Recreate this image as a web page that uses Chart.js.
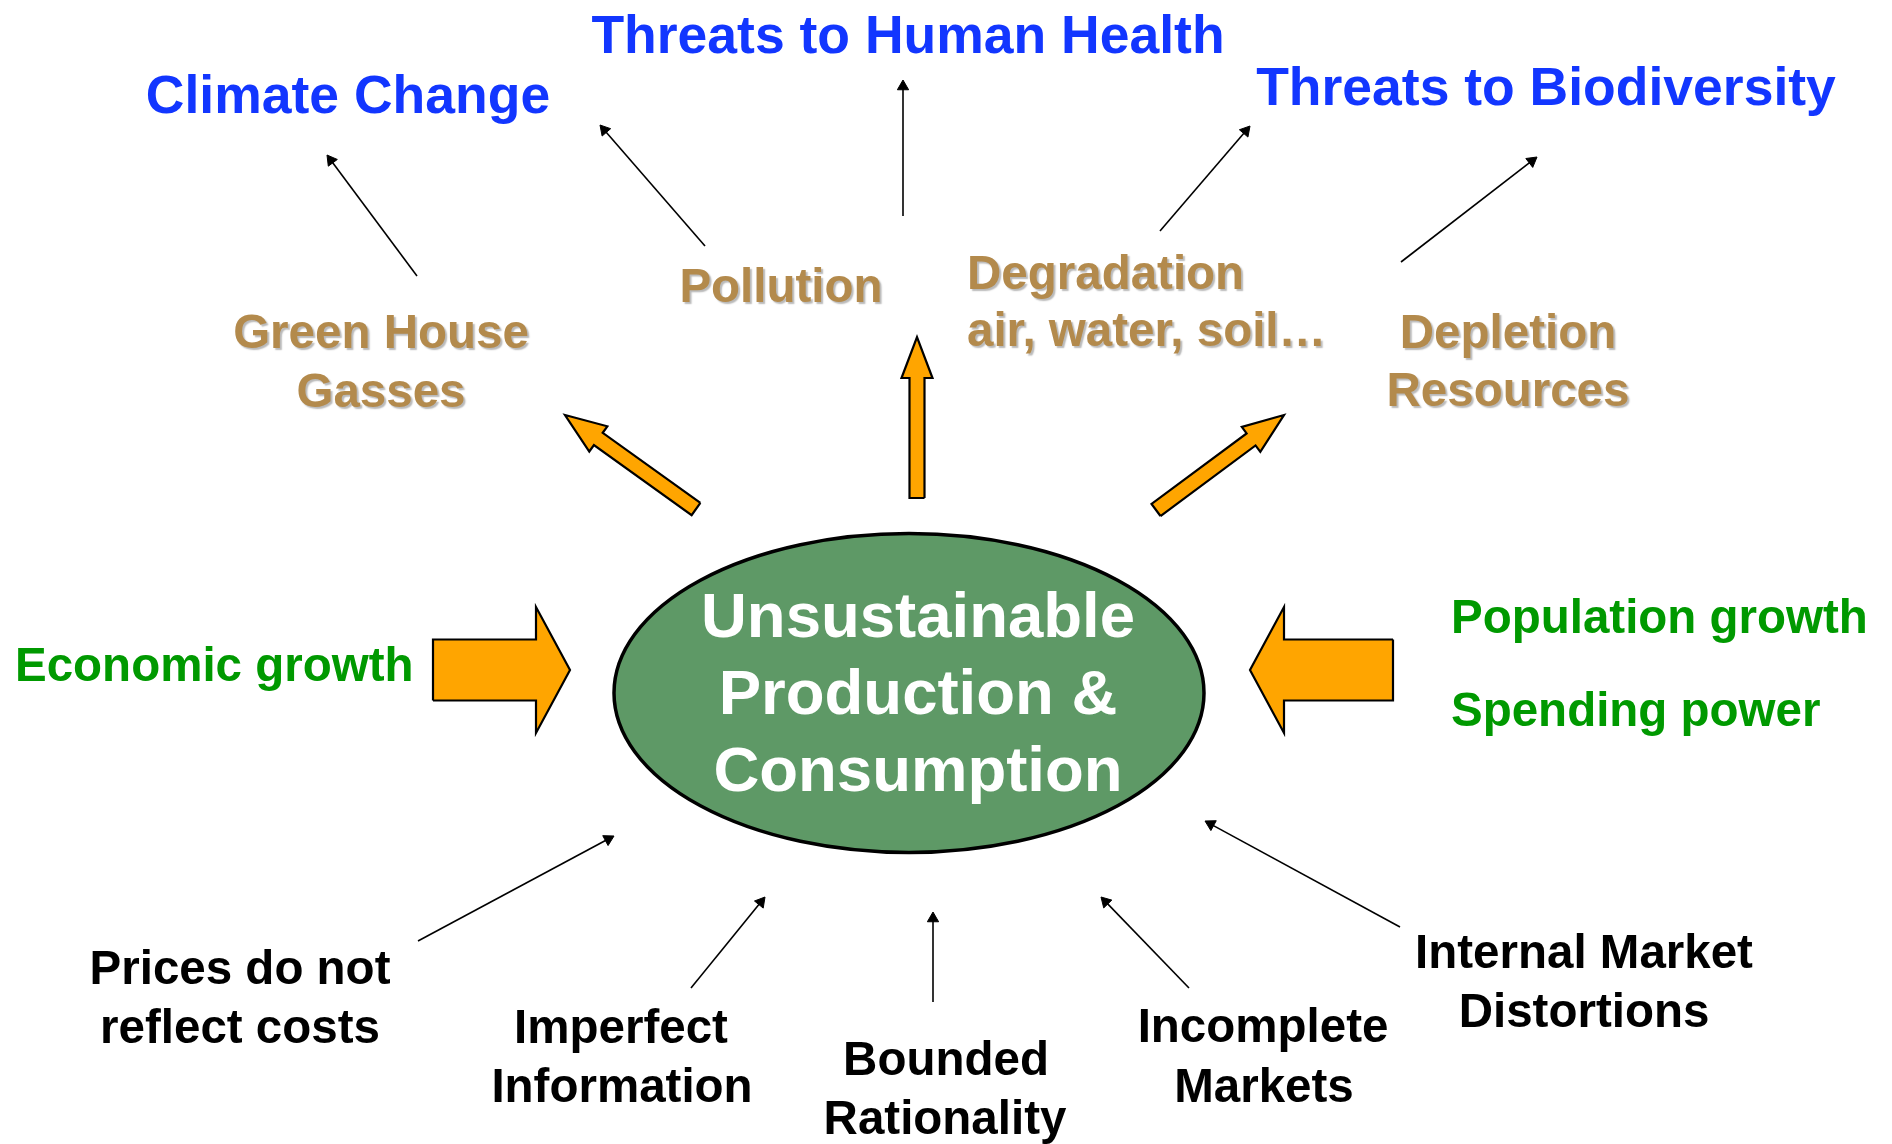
<!DOCTYPE html>
<html>
<head>
<meta charset="utf-8">
<script src="https://cdn.jsdelivr.net/npm/chart.js@4/dist/chart.umd.min.js"></script>
<style>
html,body{margin:0;padding:0;background:#fff;overflow:hidden}
#wrap{width:1892px;height:1144px;position:relative}
canvas{display:block}
</style>
</head>
<body>
<div id="wrap"><canvas id="c" width="1892" height="1144"></canvas></div>
<script>
// ================= DATA (diagram coordinates, y grows downward) =================
// Central hub
const hubLines = ["Unsustainable", "Production &", "Consumption"];
const hubCentre = [909, 693];
const hubRadius = [295, 159.5];
const hubTextX = [918, 918, 918];
const hubTextY = [637, 714, 791];

// Outcomes (blue)
const outcomeNames = ["Climate Change", "Threats to Human Health", "Threats to Biodiversity"];
const outcomeX = [348, 908, 1546];
const outcomeY = [113, 53, 105];

// Pressures (brown)
const pressureLines = ["Green House", "Gasses", "Pollution", "Degradation", "air, water, soil\u2026", "Depletion", "Resources"];
const pressureX = [381, 381, 781, 967, 967, 1508, 1508];
const pressureY = [348, 407, 302, 289, 346, 348, 406];

// Drivers (green)
const driverLines = ["Economic growth", "Population growth", "Spending power"];
const driverX = [15, 1451, 1451];
const driverY = [681, 633, 726];

// Causes (black)
const causeLines = ["Prices do not", "reflect costs", "Imperfect", "Information", "Bounded", "Rationality",
                    "Incomplete", "Markets", "Internal Market", "Distortions"];
const causeX = [240, 240, 621, 622, 946, 945, 1263, 1264, 1584, 1584];
const causeY = [984, 1043, 1043, 1102, 1075, 1134, 1042, 1102, 968, 1027];

// Thin links: tail -> tip
const linkFromX = [417, 705, 903, 1160, 1401, 418, 691, 933, 1189, 1400];
const linkFromY = [276, 246, 216, 231, 262, 941, 988, 1002, 988, 927];
const linkToX   = [327, 600, 903, 1250, 1537, 614, 765, 933, 1101, 1205];
const linkToY   = [155, 125, 80, 126, 157, 836, 897, 912, 897, 821];

// Block flows: tail -> tip
const flowFromX = [696, 917, 1156, 433, 1393];
const flowFromY = [509, 498, 510, 670, 670];
const flowToX   = [565, 917, 1284, 570, 1250];
const flowToY   = [415, 337, 415, 670, 670];

// ================= STYLE =================
const flowShaft   = [15, 15, 15, 61, 61];
const flowHeadW   = [31, 31, 31, 126, 126];
const flowHeadLen = [41, 41, 41, 34, 34];
const headR = 6.5;
const FONT = "'Liberation Sans', Arial, Helvetica, sans-serif";
const C_BLUE = '#1236FF', C_BROWN = '#B38A4C', C_GREEN = '#009900', C_ORANGE = '#FFA500', C_HUB = '#5E9966';

// ================= BUILD DATASETS =================
const datasets = [];
for (let i = 0; i < flowFromX.length; i++) {
  const tx = flowFromX[i], ty = flowFromY[i], px = flowToX[i], py = flowToY[i];
  const L = Math.hypot(px - tx, py - ty);
  const ux = (px - tx) / L, uy = (py - ty) / L;
  const nx = -uy, ny = ux;
  const bx = px - ux * flowHeadLen[i], by = py - uy * flowHeadLen[i];
  const s = flowShaft[i] / 2, h = flowHeadW[i] / 2;
  const pts = [
    {x: tx + nx * s, y: ty + ny * s},
    {x: bx + nx * s, y: by + ny * s},
    {x: bx + nx * h, y: by + ny * h},
    {x: px, y: py},
    {x: bx - nx * h, y: by - ny * h},
    {x: bx - nx * s, y: by - ny * s},
    {x: tx - nx * s, y: ty - ny * s},
    {x: tx + nx * s, y: ty + ny * s}
  ];
  datasets.push({
    data: pts, showLine: true, fill: 'shape', backgroundColor: C_ORANGE,
    borderColor: '#000', borderWidth: 2.2, borderJoinStyle: 'miter',
    pointRadius: 0, tension: 0
  });
}
for (let i = 0; i < linkFromX.length; i++) {
  const tx = linkFromX[i], ty = linkFromY[i], px = linkToX[i], py = linkToY[i];
  const L = Math.hypot(px - tx, py - ty);
  const ux = (px - tx) / L, uy = (py - ty) / L;
  const rot = Math.atan2(ux, -uy) * 180 / Math.PI;
  datasets.push({
    data: [{x: tx, y: ty}, {x: px - ux * headR, y: py - uy * headR}],
    showLine: true, fill: false, borderColor: '#000', borderWidth: 1.6,
    pointRadius: [0, headR], pointStyle: 'triangle', pointRotation: [0, rot],
    pointBackgroundColor: '#000', pointBorderColor: '#000', pointBorderWidth: 1, tension: 0
  });
}

// ================= PLUGINS =================
const hubPlugin = {
  id: 'hub',
  beforeDatasetsDraw(chart) {
    const {ctx, scales: {x, y}} = chart;
    const cx = x.getPixelForValue(hubCentre[0]), cy = y.getPixelForValue(hubCentre[1]);
    const rx = Math.abs(x.getPixelForValue(hubCentre[0] + hubRadius[0]) - cx);
    const ry = Math.abs(y.getPixelForValue(hubCentre[1] + hubRadius[1]) - cy);
    ctx.save();
    ctx.beginPath();
    ctx.ellipse(cx, cy, rx, ry, 0, 0, Math.PI * 2);
    ctx.fillStyle = C_HUB; ctx.fill();
    ctx.lineWidth = 3.5; ctx.strokeStyle = '#000'; ctx.stroke();
    ctx.restore();
  }
};

function drawTexts(chart, lines, xs, ys, opts) {
  const {ctx, scales: {x, y}} = chart;
  ctx.save();
  ctx.font = 'bold ' + opts.size + 'px ' + FONT;
  ctx.fillStyle = opts.color;
  ctx.textBaseline = 'alphabetic';
  if (opts.shadow) {
    ctx.shadowColor = 'rgba(0,0,0,0.28)';
    ctx.shadowOffsetX = 2; ctx.shadowOffsetY = 2; ctx.shadowBlur = 1.5;
  }
  lines.forEach((t, i) => {
    ctx.textAlign = opts.align ? opts.align[i] : 'center';
    ctx.fillText(t, x.getPixelForValue(xs[i]), y.getPixelForValue(ys[i]));
  });
  ctx.restore();
}

const textPlugin = {
  id: 'texts',
  afterDatasetsDraw(chart) {
    drawTexts(chart, hubLines, hubTextX, hubTextY, {size: 63.5, color: '#fff'});
    drawTexts(chart, outcomeNames, outcomeX, outcomeY, {size: 53.5, color: C_BLUE});
    drawTexts(chart, pressureLines, pressureX, pressureY, {size: 47.5, color: C_BROWN, shadow: true,
      align: ['center', 'center', 'center', 'left', 'left', 'center', 'center']});
    drawTexts(chart, driverLines, driverX, driverY, {size: 47.5, color: C_GREEN, align: ['left', 'left', 'left']});
    drawTexts(chart, causeLines, causeX, causeY, {size: 47.5, color: '#000'});
  }
};

// ================= CHART =================
new Chart(document.getElementById('c'), {
  type: 'line',
  data: {datasets},
  options: {
    responsive: false, maintainAspectRatio: false, animation: false, events: [],
    devicePixelRatio: 1,
    layout: {padding: 0, autoPadding: false},
    plugins: {legend: {display: false}, tooltip: {enabled: false}},
    scales: {
      x: {type: 'linear', min: 0, max: 1892, display: false},
      y: {type: 'linear', min: 0, max: 1144, reverse: true, display: false}
    }
  },
  plugins: [hubPlugin, textPlugin]
});
</script>
</body>
</html>
